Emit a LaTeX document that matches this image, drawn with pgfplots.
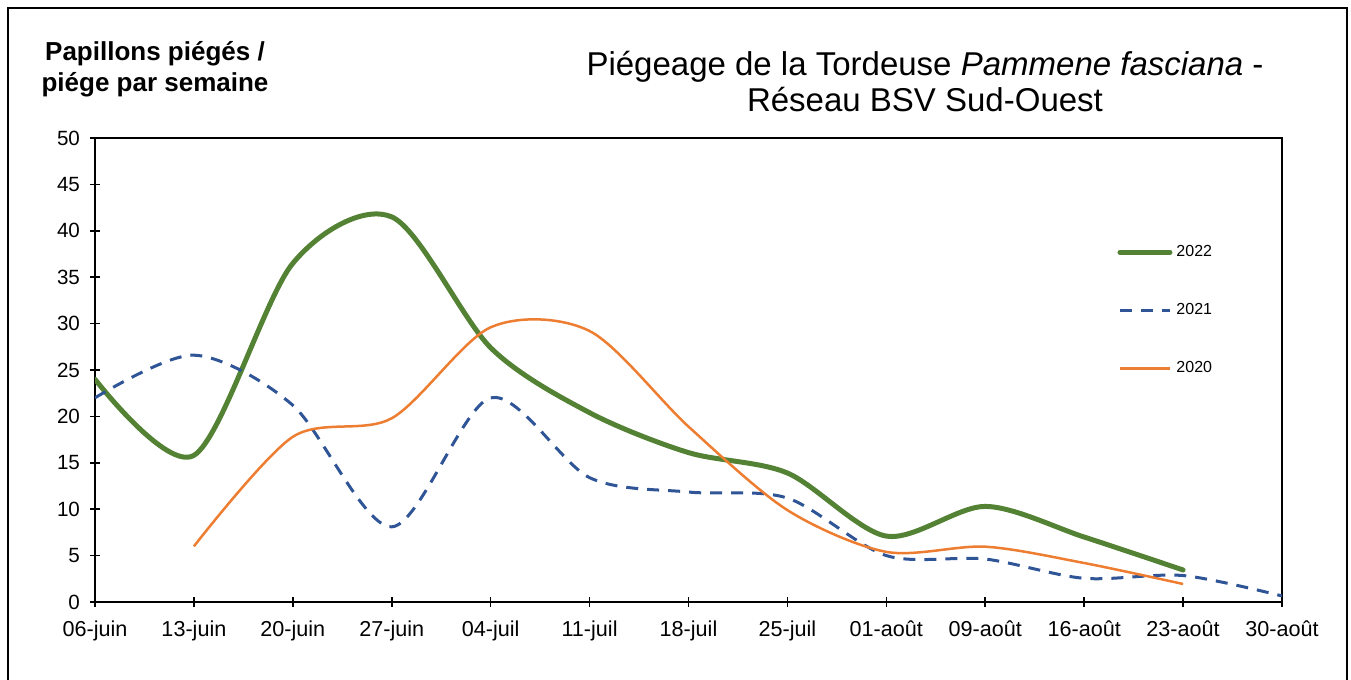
\documentclass[border=0pt]{standalone}
\usepackage{pgfplots}
\pgfplotsset{compat=1.18}
\usepackage{fontspec}
\setmainfont{Liberation Sans}
\definecolor{cgreen}{HTML}{548235}
\definecolor{cblue}{HTML}{2F5597}
\definecolor{corange}{HTML}{ED7D31}
\begin{document}
\begin{tikzpicture}
\path[use as bounding box] (0,0) rectangle (675.5pt,340pt);
\draw[line width=0.6pt] (4pt,0) -- (4pt,336pt) -- (673.5pt,336pt) -- (673.5pt,0);
\begin{axis}[
  at={(47.5pt,39pt)}, anchor=south west,
  scale only axis, width=593.5pt, height=232pt,
  xmin=0, xmax=12, ymin=0, ymax=50,
  xtick={0,...,12},
  xticklabels={06-juin,13-juin,20-juin,27-juin,04-juil,11-juil,18-juil,25-juil,01-août,09-août,16-août,23-août,30-août},
  ytick={0,5,...,50},
  xtick pos=bottom, ytick pos=left,
  tick align=center, major tick length=5pt,
  axis line style={line width=1pt},
  every tick/.style={black, line width=0.8pt},
  /pgf/number format/assume math mode=true,
  yticklabel style={font=\fontsize{10.3}{12}\selectfont, xshift=-1.5pt},
  xticklabel style={font=\fontsize{10.8}{12}\selectfont, yshift=-3.5pt},
  legend style={draw=none, fill=none, at={(0.856,0.787)}, anchor=north west,
    font=\fontsize{8}{9.6}\selectfont, row sep=18pt},
  legend cell align=left,
  legend image code/.code={\draw[#1] (0pt,0pt) -- (25pt,0pt);},
]
\addplot[cgreen, line width=2.5pt, smooth, line cap=round] coordinates {
(0,24.0) (1,15.8) (2,36.5) (3,41.5) (4,27.4) (5,20.4) (6,16.1) (7,13.9) (8,7.1) (9,10.3) (10,7.0) (11,3.45)};
\addlegendentry{2022}
\addplot[cblue, line width=1.5pt, smooth, dash pattern=on 6pt off 4.5pt] coordinates {
(0,22.0) (1,26.6) (2,21.2) (3,8.1) (4,22.0) (5,13.4) (6,11.85) (7,11.2) (8,5.0) (9,4.63) (10,2.55) (11,2.85) (12,0.65)};
\addlegendentry{2021}
\addplot[corange, line width=1.25pt, smooth] coordinates {
(1,6.0) (2,17.8) (3,19.8) (4,29.6) (5,29.2) (6,18.9) (7,9.9) (8,5.4) (9,5.96) (10,4.2) (11,1.94)};
\addlegendentry{2020}
\end{axis}
\node[font=\fontsize{16.5}{18}\selectfont, align=center] at (462.5pt,299pt)
  {Piégeage de la Tordeuse \textit{Pammene fasciana} -\\Réseau BSV Sud-Ouest};
\node[font=\fontsize{13}{15.5}\selectfont\bfseries, align=center] at (77.5pt,305.5pt)
  {Papillons piégés /\\piége par semaine};
\end{tikzpicture}
\end{document}
